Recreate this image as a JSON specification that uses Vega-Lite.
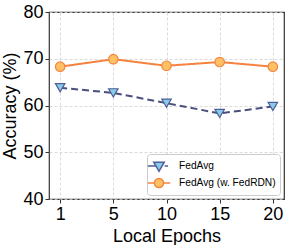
{
  "$schema": "https://vega.github.io/schema/vega-lite/v6.json",
  "width": 235,
  "height": 187,
  "autosize": {"type": "none"},
  "padding": {"left": 49, "top": 12, "right": 7, "bottom": 46},
  "background": "white",
  "config": {
    "font": "Liberation Sans",
    "view": {"stroke": "#333333", "strokeWidth": 1.2},
    "axis": {
      "domain": false,
      "ticks": true,
      "tickColor": "#333333",
      "tickSize": 4,
      "tickWidth": 1,
      "labelFontSize": 18,
      "labelColor": "black",
      "labelFont": "Liberation Sans",
      "titleFont": "Liberation Sans",
      "titleFontSize": 18,
      "titleFontWeight": "normal",
      "titleColor": "black",
      "grid": true,
      "gridColor": "#d0d0d0",
      "gridDash": [3, 2],
      "gridWidth": 0.8
    },
    "legend": {
      "labelFont": "Liberation Sans",
      "labelFontSize": 10.2,
      "labelColor": "black"
    }
  },
  "data": {
    "values": [
      {"epoch": "1", "method": "FedAvg", "acc": 63.8},
      {"epoch": "5", "method": "FedAvg", "acc": 62.7},
      {"epoch": "10", "method": "FedAvg", "acc": 60.5},
      {"epoch": "15", "method": "FedAvg", "acc": 58.3},
      {"epoch": "20", "method": "FedAvg", "acc": 59.8},
      {"epoch": "1", "method": "FedAvg (w. FedRDN)", "acc": 68.3},
      {"epoch": "5", "method": "FedAvg (w. FedRDN)", "acc": 69.9},
      {"epoch": "10", "method": "FedAvg (w. FedRDN)", "acc": 68.5},
      {"epoch": "15", "method": "FedAvg (w. FedRDN)", "acc": 69.3},
      {"epoch": "20", "method": "FedAvg (w. FedRDN)", "acc": 68.3}
    ]
  },
  "encoding": {
    "x": {
      "field": "epoch",
      "type": "ordinal",
      "sort": ["1", "5", "10", "15", "20"],
      "scale": {"type": "point", "padding": 0.21},
      "axis": {"title": "Local Epochs", "labelAngle": 0, "labelPadding": 2, "titlePadding": 4}
    },
    "y": {
      "field": "acc",
      "type": "quantitative",
      "scale": {"domain": [40, 80], "nice": false, "zero": false},
      "axis": {"title": "Accuracy (%)", "values": [40, 50, 60, 70, 80], "labelPadding": 2, "titlePadding": 3}
    }
  },
  "layer": [
    {
      "mark": {"type": "line", "strokeWidth": 2},
      "encoding": {
        "color": {
          "field": "method",
          "type": "nominal",
          "scale": {"range": ["#4a4f7e", "#f5823f"]},
          "legend": null
        },
        "strokeDash": {
          "field": "method",
          "type": "nominal",
          "scale": {"range": [[7, 4], [1, 0]]},
          "legend": null
        }
      }
    },
    {
      "mark": {"type": "point", "filled": true, "size": 90, "strokeWidth": 1.2, "opacity": 1},
      "encoding": {
        "fill": {
          "field": "method",
          "type": "nominal",
          "title": null,
          "scale": {"domain": ["FedAvg", "FedAvg (w. FedRDN)"], "range": ["#8acbea", "#fec164"]},
          "legend": {
            "orient": "bottom-right",
            "offset": 4,
            "padding": 4,
            "fillColor": "white",
            "strokeColor": "#cccccc",
            "cornerRadius": 3,
            "symbolSize": 196,
            "symbolStrokeWidth": 1.5,
            "symbolType": {"expr": "datum.value === 'FedAvg' ? 'M-1.6,0H-0.5M0.8,0H1.3M-0.75,-0.55L0.75,-0.55L0,0.75Z' : 'M-1.6,0H-0.65M0.65,0H1.6M0.65,0A0.65,0.65 0 1,1 -0.65,0A0.65,0.65 0 1,1 0.65,0Z'"},
            "labelOffset": 12,
            "rowPadding": 0
          }
        },
        "stroke": {
          "field": "method",
          "type": "nominal",
          "title": null,
          "scale": {"domain": ["FedAvg", "FedAvg (w. FedRDN)"], "range": ["#4f5f98", "#f5823f"]},
          "legend": {
            "orient": "bottom-right",
            "offset": 4,
            "padding": 4,
            "fillColor": "white",
            "strokeColor": "#cccccc",
            "cornerRadius": 3,
            "symbolSize": 196,
            "symbolStrokeWidth": 1.5,
            "symbolType": {"expr": "datum.value === 'FedAvg' ? 'M-1.6,0H-0.5M0.8,0H1.3M-0.75,-0.55L0.75,-0.55L0,0.75Z' : 'M-1.6,0H-0.65M0.65,0H1.6M0.65,0A0.65,0.65 0 1,1 -0.65,0A0.65,0.65 0 1,1 0.65,0Z'"},
            "labelOffset": 12,
            "rowPadding": 0
          }
        },
        "shape": {
          "field": "method",
          "type": "nominal",
          "scale": {"range": ["triangle-down", "circle"]},
          "legend": null
        }
      }
    }
  ]
}
